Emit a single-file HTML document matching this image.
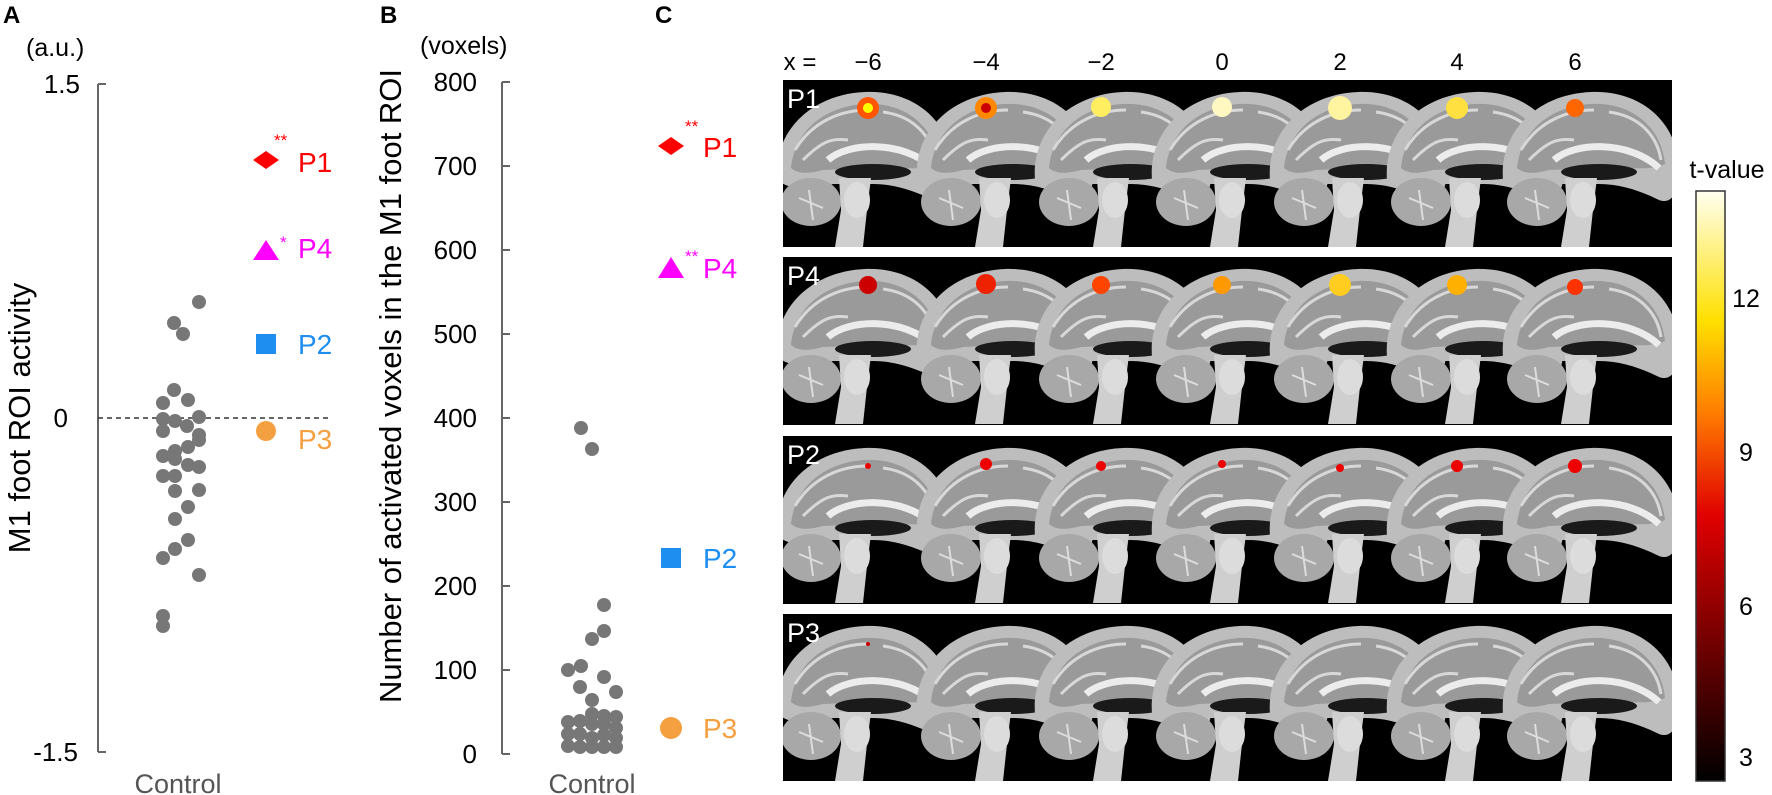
<!DOCTYPE html>
<html><head><meta charset="utf-8"><style>
html,body{margin:0;padding:0;background:#fff;}
svg{display:block;font-family:"Liberation Sans",Arial,sans-serif;}
</style></head><body>
<svg width="1772" height="795" viewBox="0 0 1772 795" xmlns="http://www.w3.org/2000/svg">
<defs>
<linearGradient id="cb" x1="0" y1="1" x2="0" y2="0">
<stop offset="0" stop-color="#000"/>
<stop offset="0.25" stop-color="#7a0000"/>
<stop offset="0.45" stop-color="#e00000"/>
<stop offset="0.62" stop-color="#ff7a00"/>
<stop offset="0.78" stop-color="#ffe000"/>
<stop offset="1" stop-color="#fffff0"/>
</linearGradient>
<g id="brain">
<path d="M4,100 C0,50 40,14 92,12 C140,10 178,40 180,88 C182,112 172,125 160,120 C140,110 120,104 100,104 L60,104 C40,110 20,112 4,100 Z" fill="#bdbdbd"/>
<path d="M18,88 C22,48 55,26 92,24 C132,22 162,46 166,84 C150,92 120,86 100,88 L50,90 C35,94 25,94 18,88 Z" fill="#9a9a9a"/>
<path d="M22,70 C40,40 70,30 95,30 M110,32 C140,36 158,55 162,80 M30,80 C50,60 60,58 75,60" fill="none" stroke="#d8d8d8" stroke-width="3"/>
<path d="M55,80 C75,62 130,60 160,88" fill="none" stroke="#ececec" stroke-width="7"/>
<ellipse cx="100" cy="92" rx="38" ry="8" fill="#1a1a1a"/>
<ellipse cx="38" cy="122" rx="30" ry="24" fill="#a8a8a8"/>
<path d="M36,110 L40,140 M26,118 L50,128" stroke="#ddd" stroke-width="2"/>
<path d="M66,98 L98,98 L94,130 L90,167 L62,167 L68,130 Z" fill="#cfcfcf"/>
<ellipse cx="84" cy="120" rx="13" ry="18" fill="#dcdcdc"/>
</g>
</defs>

<!-- Panel A -->
<text x="3" y="23" font-size="24" font-weight="bold">A</text>
<text x="26" y="56" font-size="25">(a.u.)</text>
<line x1="98" y1="84" x2="98" y2="752" stroke="#666" stroke-width="2"/>
<line x1="98" y1="84" x2="106" y2="84" stroke="#666" stroke-width="2"/>
<line x1="98" y1="752" x2="106" y2="752" stroke="#666" stroke-width="2"/>
<line x1="98" y1="418" x2="330" y2="418" stroke="#333" stroke-width="1.5" stroke-dasharray="5,4"/>
<text x="80" y="93" font-size="26" text-anchor="end">1.5</text>
<text x="68" y="427" font-size="26" text-anchor="end">0</text>
<text x="78" y="761" font-size="26" text-anchor="end">-1.5</text>
<text transform="translate(30,418) rotate(-90)" font-size="31" text-anchor="middle">M1 foot ROI activity</text>
<text x="178" y="793" font-size="27" text-anchor="middle" fill="#555">Control</text>
<g fill="#777">
<circle cx="199" cy="302" r="7"/><circle cx="174" cy="323" r="7"/><circle cx="183" cy="334" r="7"/>
<circle cx="174" cy="390" r="7"/><circle cx="163" cy="403" r="7"/><circle cx="188" cy="400" r="7"/>
<circle cx="199" cy="417" r="7"/><circle cx="163" cy="419" r="7"/><circle cx="175" cy="421" r="7"/>
<circle cx="187" cy="426" r="7"/><circle cx="163" cy="431" r="7"/><circle cx="199" cy="435" r="7"/>
<circle cx="199" cy="440" r="7"/><circle cx="188" cy="447" r="7"/><circle cx="175" cy="451" r="7"/>
<circle cx="163" cy="456" r="7"/><circle cx="175" cy="459" r="7"/><circle cx="188" cy="465" r="7"/>
<circle cx="199" cy="467" r="7"/><circle cx="163" cy="476" r="7"/><circle cx="175" cy="476" r="7"/>
<circle cx="199" cy="490" r="7"/><circle cx="175" cy="491" r="7"/><circle cx="188" cy="507" r="7"/>
<circle cx="175" cy="519" r="7"/><circle cx="188" cy="540" r="7"/><circle cx="175" cy="549" r="7"/>
<circle cx="163" cy="558" r="7"/><circle cx="199" cy="575" r="7"/><circle cx="163" cy="616" r="7"/>
<circle cx="163" cy="626" r="7"/>
</g>
<polygon points="253,160 266,151 279,160 266,169" fill="#f00"/>
<text x="274" y="146" font-size="17" fill="#f00">**</text>
<text x="298" y="172" font-size="28" fill="#f00">P1</text>
<polygon points="253,260 266,240 279,260" fill="#f0f"/>
<text x="280" y="248" font-size="17" fill="#f0f">*</text>
<text x="298" y="258" font-size="28" fill="#f0f">P4</text>
<rect x="256" y="334" width="20" height="20" fill="#1e8ef0"/>
<text x="298" y="354" font-size="28" fill="#1e8ef0">P2</text>
<circle cx="266" cy="431" r="10" fill="#f5a040"/>
<text x="298" y="449" font-size="28" fill="#f5a040">P3</text>

<!-- Panel B -->
<text x="380" y="23" font-size="24" font-weight="bold">B</text>
<text x="420" y="54" font-size="25">(voxels)</text>
<line x1="502" y1="82" x2="502" y2="754" stroke="#666" stroke-width="2"/>
<g stroke="#666" stroke-width="2">
<line x1="502" y1="82" x2="510" y2="82"/><line x1="502" y1="166" x2="510" y2="166"/>
<line x1="502" y1="250" x2="510" y2="250"/><line x1="502" y1="334" x2="510" y2="334"/>
<line x1="502" y1="418" x2="510" y2="418"/><line x1="502" y1="502" x2="510" y2="502"/>
<line x1="502" y1="586" x2="510" y2="586"/><line x1="502" y1="670" x2="510" y2="670"/>
<line x1="502" y1="754" x2="510" y2="754"/>
</g>
<g font-size="26" text-anchor="end">
<text x="477" y="91">800</text><text x="477" y="175">700</text><text x="477" y="259">600</text>
<text x="477" y="343">500</text><text x="477" y="427">400</text><text x="477" y="511">300</text>
<text x="477" y="595">200</text><text x="477" y="679">100</text><text x="477" y="763">0</text>
</g>
<text transform="translate(401,386) rotate(-90)" font-size="31" text-anchor="middle">Number of activated voxels in the M1 foot ROI</text>
<text x="592" y="793" font-size="27" text-anchor="middle" fill="#555">Control</text>
<g fill="#777">
<circle cx="581" cy="428" r="7"/><circle cx="592" cy="449" r="7"/><circle cx="604" cy="605" r="7"/>
<circle cx="604" cy="631" r="7"/><circle cx="592" cy="639" r="7"/><circle cx="581" cy="666" r="7"/>
<circle cx="568" cy="670" r="7"/><circle cx="604" cy="677" r="7"/><circle cx="580" cy="687" r="7"/>
<circle cx="616" cy="692" r="7"/><circle cx="592" cy="700" r="7"/>
<circle cx="592" cy="714" r="7"/><circle cx="604" cy="716" r="7"/><circle cx="616" cy="717" r="7"/>
<circle cx="568" cy="722" r="7"/><circle cx="580" cy="721" r="7"/><circle cx="592" cy="724" r="7"/><circle cx="604" cy="724" r="7"/><circle cx="616" cy="728" r="7"/>
<circle cx="568" cy="734" r="7"/><circle cx="580" cy="734" r="7"/><circle cx="604" cy="735" r="7"/><circle cx="616" cy="738" r="7"/>
<circle cx="568" cy="746" r="7"/><circle cx="580" cy="747" r="7"/><circle cx="592" cy="747" r="7"/><circle cx="604" cy="747" r="7"/><circle cx="616" cy="747" r="7"/>
<circle cx="592" cy="738" r="7"/>
</g>
<polygon points="658,146 671,137 684,146 671,155" fill="#f00"/>
<text x="685" y="132" font-size="17" fill="#f00">**</text>
<text x="703" y="157" font-size="28" fill="#f00">P1</text>
<polygon points="658,278 671,257 684,278" fill="#f0f"/>
<text x="685" y="262" font-size="17" fill="#f0f">**</text>
<text x="703" y="278" font-size="28" fill="#f0f">P4</text>
<rect x="661" y="548" width="20" height="20" fill="#1e8ef0"/>
<text x="703" y="568" font-size="28" fill="#1e8ef0">P2</text>
<circle cx="671" cy="728" r="11" fill="#f5a040"/>
<text x="703" y="738" font-size="28" fill="#f5a040">P3</text>

<!-- Panel C -->
<text x="655" y="23" font-size="24" font-weight="bold">C</text>
<g font-size="24" text-anchor="middle">
<text x="800" y="70">x =</text>
<text x="868" y="70">−6</text><text x="986" y="70">−4</text><text x="1101" y="70">−2</text>
<text x="1222" y="70">0</text><text x="1340" y="70">2</text><text x="1457" y="70">4</text><text x="1575" y="70">6</text>
</g>

<!-- P1 -->
<svg x="783" y="80" width="889" height="167" overflow="hidden">
<rect width="889" height="167" fill="#000"/>
<use href="#brain" x="-10"/><use href="#brain" x="130"/><use href="#brain" x="248"/><use href="#brain" x="365"/>
<use href="#brain" x="483"/><use href="#brain" x="600"/><use href="#brain" x="716"/>
<g><circle cx="85" cy="28" r="11" fill="#f50"/><circle cx="85" cy="28" r="5" fill="#ff0"/>
<circle cx="203" cy="28" r="11" fill="#f80"/><circle cx="203" cy="28" r="5" fill="#c00"/>
<circle cx="318" cy="27" r="10" fill="#ffee60"/><circle cx="439" cy="27" r="10" fill="#fff8c0"/>
<circle cx="557" cy="28" r="12" fill="#fff4a0"/><circle cx="674" cy="28" r="11" fill="#ffe040"/>
<circle cx="792" cy="28" r="9" fill="#f60"/></g>
<text x="4" y="28" font-size="27" fill="#fff">P1</text>
</svg>
<!-- P4 -->
<svg x="783" y="257" width="889" height="168" overflow="hidden">
<rect width="889" height="168" fill="#000"/>
<use href="#brain" x="-10"/><use href="#brain" x="130"/><use href="#brain" x="248"/><use href="#brain" x="365"/>
<use href="#brain" x="483"/><use href="#brain" x="600"/><use href="#brain" x="716"/>
<g><circle cx="85" cy="28" r="9" fill="#c00"/><circle cx="203" cy="27" r="10" fill="#e20"/>
<circle cx="318" cy="28" r="9" fill="#f40"/><circle cx="439" cy="28" r="9" fill="#f90"/>
<circle cx="557" cy="28" r="11" fill="#ffcc20"/><circle cx="674" cy="28" r="10" fill="#ffb000"/>
<circle cx="792" cy="30" r="8" fill="#f30"/></g>
<text x="4" y="28" font-size="27" fill="#fff">P4</text>
</svg>
<!-- P2 -->
<svg x="783" y="436" width="889" height="168" overflow="hidden">
<rect width="889" height="168" fill="#000"/>
<use href="#brain" x="-10"/><use href="#brain" x="130"/><use href="#brain" x="248"/><use href="#brain" x="365"/>
<use href="#brain" x="483"/><use href="#brain" x="600"/><use href="#brain" x="716"/>
<g fill="#e00"><circle cx="85" cy="30" r="3"/><circle cx="203" cy="28" r="6"/>
<circle cx="318" cy="30" r="5"/><circle cx="439" cy="28" r="4"/><circle cx="557" cy="32" r="4"/>
<circle cx="674" cy="30" r="6"/><circle cx="792" cy="30" r="7"/></g>
<text x="4" y="28" font-size="27" fill="#fff">P2</text>
</svg>
<!-- P3 -->
<svg x="783" y="614" width="889" height="167" overflow="hidden">
<rect width="889" height="167" fill="#000"/>
<use href="#brain" x="-10"/><use href="#brain" x="130"/><use href="#brain" x="248"/><use href="#brain" x="365"/>
<use href="#brain" x="483"/><use href="#brain" x="600"/><use href="#brain" x="716"/>
<circle cx="85" cy="30" r="2" fill="#c00"/>
<text x="4" y="28" font-size="27" fill="#fff">P3</text>
</svg>

<!-- colorbar -->
<text x="1727" y="178" font-size="25" text-anchor="middle">t-value</text>
<rect x="1696" y="191" width="29" height="590" fill="url(#cb)" stroke="#333" stroke-width="1.5"/>
<g font-size="25" text-anchor="middle">
<text x="1746" y="307">12</text><text x="1746" y="461">9</text>
<text x="1746" y="615">6</text><text x="1746" y="766">3</text>
</g>
</svg>
</body></html>
